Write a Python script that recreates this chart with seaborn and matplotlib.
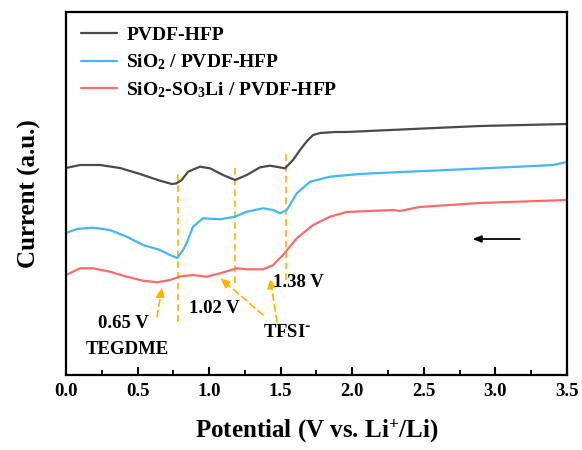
import numpy as np
import pandas as pd
import matplotlib
matplotlib.use("Agg")
import matplotlib.pyplot as plt
import seaborn as sns

# ---- data (potential in V, current in arbitrary units) ----
black_x = [0.0, 0.098, 0.238, 0.377, 0.517, 0.657, 0.739, 0.774, 0.808, 0.853, 0.936, 1.006, 1.097,
           1.181, 1.263, 1.356, 1.426, 1.530, 1.586, 1.635, 1.684, 1.726, 1.775, 1.88, 1.96,
           2.42, 2.89, 3.50]
black_y = [207, 210, 210, 207, 201, 194.3, 191, 191.7, 195, 203.3, 208.3, 206.7, 200,
           195, 200, 207.7, 209.3, 206.7, 215, 225, 234, 240, 242, 243, 243,
           246, 249, 251]

blue_x = [0.0, 0.075, 0.189, 0.307, 0.424, 0.538, 0.657, 0.727, 0.776, 0.818, 0.846, 0.887, 0.957,
          1.076, 1.181, 1.263, 1.377, 1.447, 1.495, 1.542, 1.612, 1.705, 1.845, 2.05, 2.19,
          2.66, 3.12, 3.40, 3.50]
blue_y = [142, 146, 147.3, 145, 138.3, 130, 125, 120, 117, 125, 133, 148.3, 156.7,
          155.7, 158.3, 163.3, 166.7, 165, 161.7, 165, 181.7, 193.3, 198.3, 201, 202,
          205, 208, 210, 213]

red_x = [0.0, 0.098, 0.189, 0.307, 0.424, 0.538, 0.634, 0.727, 0.797, 0.887, 0.983, 1.076, 1.193,
         1.263, 1.377, 1.447, 1.516, 1.612, 1.726, 1.845, 1.96, 2.12, 2.29, 2.33, 2.40,
         2.47, 2.89, 3.50]
red_y = [100, 106.7, 106.7, 103.3, 98.3, 94.3, 92.7, 95, 98.5, 100, 98.3, 101.7, 106.7,
         105.7, 105.7, 110, 120, 136.7, 150, 158.3, 163, 164, 165, 164, 166,
         168, 172, 175]

series_labels = ["PVDF-HFP",
                 r"SiO$_{2}$ / PVDF-HFP",
                 r"SiO$_{2}$-SO$_{3}$Li / PVDF-HFP"]
series_colors = ["#4a4a4a", "#45b6fb", "#ff6b6b"]

# peak markers (dashed verticals): x, y_bottom, y_top
peak_x = [0.78, 1.18, 1.534]
peak_ybot = [53, 92, 95]
peak_ytop = [202, 207, 225]

# annotations: text, text position, arrow tail, arrow head
ann_text = ["0.65 V", "TEGDME", "1.02 V", r"TFSI$^{\text{-}}$", "1.38 V"]
ann_x = [0.398, 0.426, 1.034, 1.544, 1.62]
ann_y = [51, 25, 66, 42, 92]
arrow_tail = [(0.636, 58), (1.377, 60), (1.474, 53)]
arrow_head = [(0.671, 88), (1.076, 97), (1.426, 97)]
scan_arrow = [(3.17, 136), (2.84, 136)]

xticks = [0.0, 0.5, 1.0, 1.5, 2.0, 2.5, 3.0, 3.5]

# ---- style ----
sns.set_style("ticks")
plt.rcParams["font.family"] = ["Liberation Serif", "DejaVu Serif"]
plt.rcParams["font.weight"] = "bold"
plt.rcParams["mathtext.default"] = "regular"
plt.rcParams["axes.linewidth"] = 1.6
plt.rcParams["text.color"] = "black"
plt.rcParams["axes.labelcolor"] = "black"
plt.rcParams["xtick.color"] = "black"
plt.rcParams["ytick.color"] = "black"

df = pd.concat([
    pd.DataFrame({"Potential": black_x, "Current": black_y, "Sample": series_labels[0]}),
    pd.DataFrame({"Potential": blue_x, "Current": blue_y, "Sample": series_labels[1]}),
    pd.DataFrame({"Potential": red_x, "Current": red_y, "Sample": series_labels[2]}),
], ignore_index=True)

fig = plt.figure(figsize=(5.82, 4.5), dpi=100)
ax = fig.add_axes([0.1134, 0.1667, 0.8608, 0.8066])

sns.lineplot(data=df, x="Potential", y="Current", hue="Sample", hue_order=series_labels,
             palette=series_colors, sort=False, estimator=None, linewidth=1.6, ax=ax)
for ln in ax.get_lines():
    ln.set_solid_joinstyle("round")
    ln.set_solid_capstyle("round")

orange = "#ffb300"
for px, yb, yt in zip(peak_x, peak_ybot, peak_ytop):
    ax.plot([px, px], [yb, yt], color=orange, linestyle=(0, (4, 2.5)), linewidth=1.2, zorder=1)

for (tx, ty), (hx, hy) in zip(arrow_tail, arrow_head):
    ax.annotate("", xy=(hx, hy), xytext=(tx, ty),
                arrowprops=dict(arrowstyle="-|>,head_length=0.6,head_width=0.25",
                                color=orange, lw=1.2, linestyle=(0, (4, 2.5)),
                                shrinkA=0, shrinkB=0))

for t, x, y in zip(ann_text, ann_x, ann_y):
    ax.text(x, y, t, ha="center", va="center", fontsize=13.5, fontweight="bold", color="black")

ax.annotate("", xy=scan_arrow[1], xytext=scan_arrow[0],
            arrowprops=dict(arrowstyle="-|>,head_length=0.5,head_width=0.2",
                            color="black", lw=1.3, shrinkA=0, shrinkB=0))

ax.set_xlim(0, 3.5)
ax.set_ylim(0, 363)
ax.set_xticks(xticks)
ax.set_xticklabels([f"{v:.1f}" for v in xticks], fontsize=13.5, fontweight="bold")
ax.set_xticks(np.arange(0.25, 3.5, 0.5), minor=True)
ax.tick_params(axis="x", which="major", direction="in", length=6, width=1.5, pad=6)
ax.tick_params(axis="x", which="minor", direction="in", length=3.5, width=1.3)
ax.set_yticks([])
for s in ax.spines.values():
    s.set_visible(True)
    s.set_linewidth(1.6)
    s.set_color("black")

ax.set_xlabel(r"Potential (V vs. Li$^{+}$/Li)", fontsize=18, fontweight="bold", labelpad=12)
ax.set_ylabel("Current (a.u.)", fontsize=18, fontweight="bold", labelpad=18)

leg = ax.legend(loc="upper left", frameon=False, fontsize=14, handlelength=1.85,
                handletextpad=0.5, labelspacing=0.42, borderaxespad=0.35,
                bbox_to_anchor=(0.0, 1.0))
for line in leg.get_lines():
    line.set_linewidth(1.6)
for txt in leg.get_texts():
    txt.set_fontweight("bold")
    txt.set_color("black")

fig.savefig("out.png", dpi=100)
